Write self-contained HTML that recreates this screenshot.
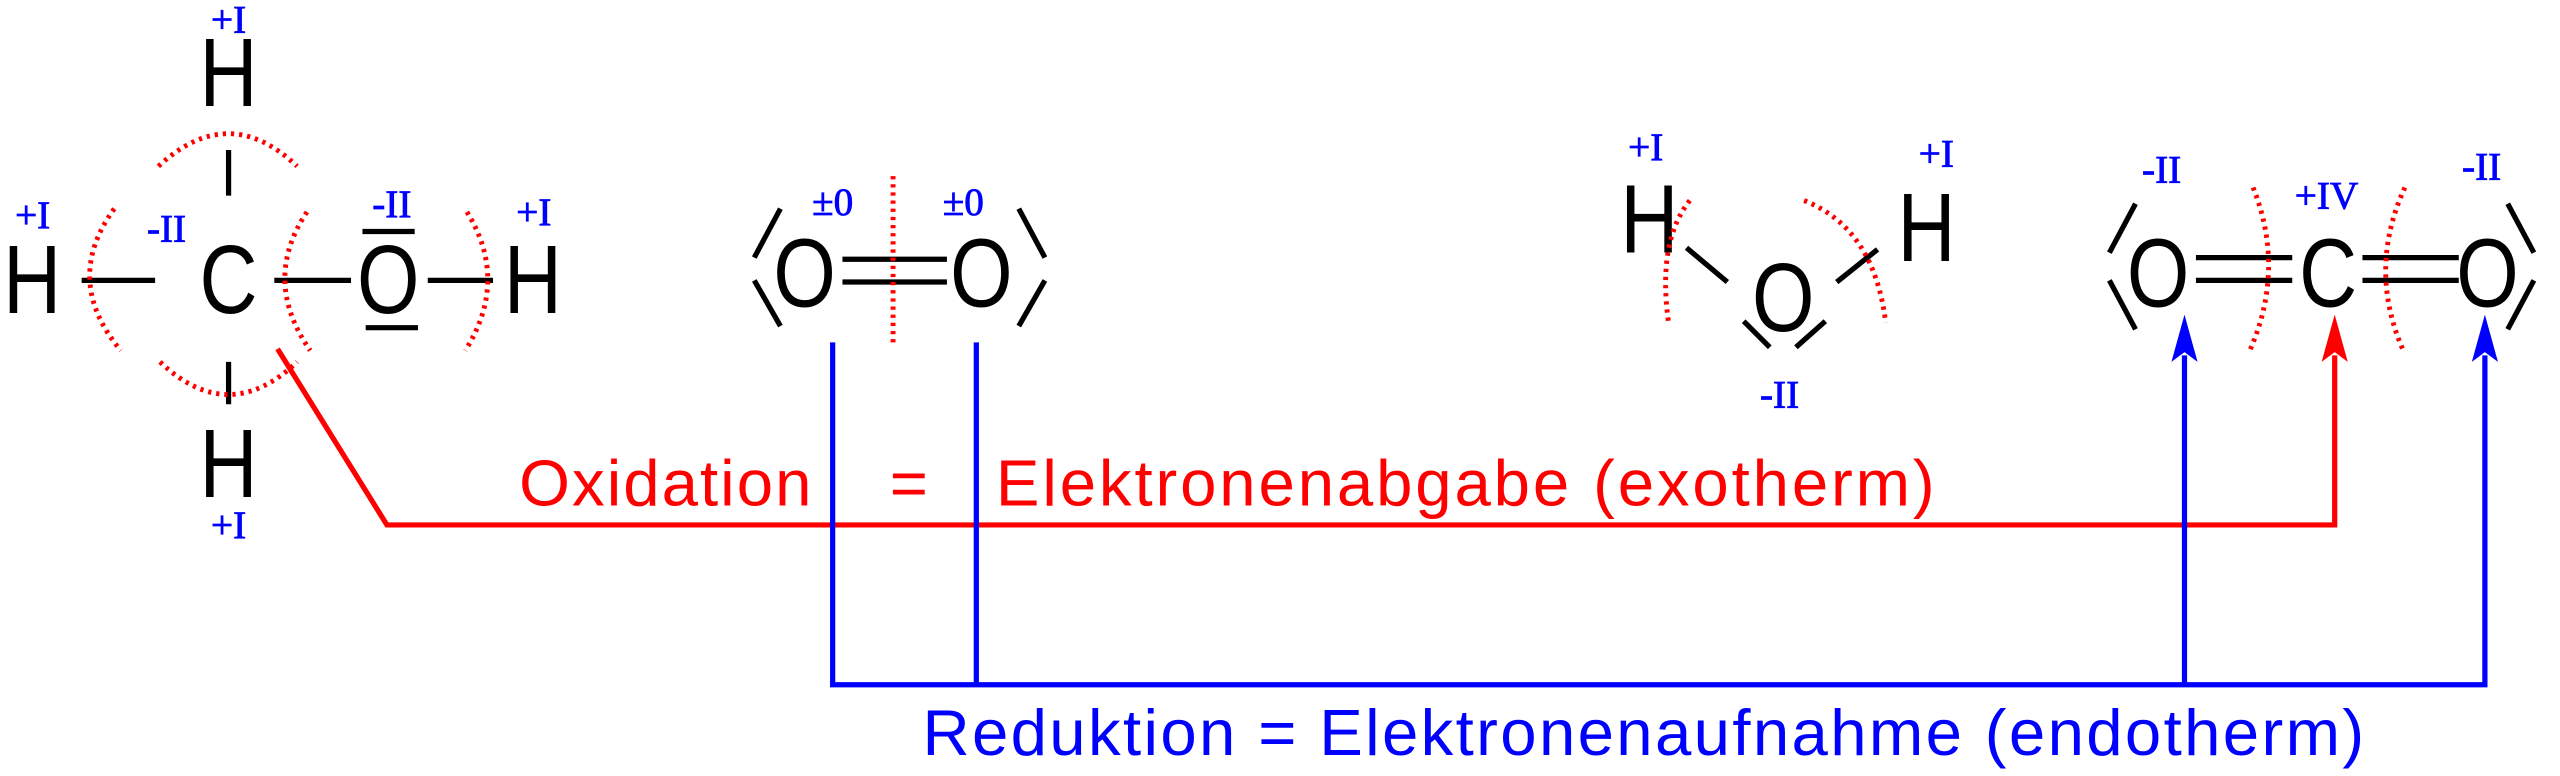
<!DOCTYPE html>
<html><head><meta charset="utf-8"><style>
html,body{margin:0;padding:0;background:#fff;}
svg{display:block;}
.a{font-family:"Liberation Sans",sans-serif;font-size:60px;fill:#000;text-anchor:middle;}
.n{font-family:"Liberation Serif",serif;font-size:24px;fill:#0000ff;text-anchor:middle;stroke:#0000ff;stroke-width:0.5;}
.t{font-family:"Liberation Sans",sans-serif;font-size:40px;}
</style></head><body>
<svg width="2560" height="776" viewBox="0 0 1568 476" preserveAspectRatio="none" xmlns="http://www.w3.org/2000/svg">
<g stroke="#000" stroke-width="3.2" fill="none">
 <line x1="140" y1="92" x2="140" y2="120"/>
 <line x1="140" y1="222" x2="140" y2="248"/>
 <line x1="50" y1="172" x2="95" y2="172"/>
 <line x1="168" y1="172" x2="215" y2="172"/>
 <line x1="262" y1="172" x2="302" y2="172"/>
 <line x1="222" y1="142" x2="254" y2="142"/>
 <line x1="224" y1="201" x2="256" y2="201"/>
 <line x1="516" y1="159" x2="580" y2="159"/>
 <line x1="516" y1="173" x2="580" y2="173"/>
 <line x1="478" y1="128" x2="462" y2="158"/>
 <line x1="462" y1="172" x2="478" y2="200"/>
 <line x1="624" y1="128" x2="640" y2="158"/>
 <line x1="640" y1="172" x2="624" y2="200"/>
 <line x1="1033" y1="152" x2="1058" y2="173"/>
 <line x1="1125" y1="173" x2="1150" y2="153"/>
 <line x1="1068" y1="197" x2="1084" y2="213"/>
 <line x1="1100" y1="213" x2="1118" y2="197"/>
 <line x1="1345" y1="158" x2="1404" y2="158"/>
 <line x1="1345" y1="172" x2="1404" y2="172"/>
 <line x1="1447" y1="158" x2="1506" y2="158"/>
 <line x1="1447" y1="172" x2="1506" y2="172"/>
 <line x1="1308" y1="125" x2="1292" y2="155"/>
 <line x1="1292" y1="172" x2="1308" y2="202"/>
 <line x1="1536" y1="125" x2="1552" y2="155"/>
 <line x1="1552" y1="172" x2="1536" y2="202"/>
</g>
<g class="a" transform="scale(0.82,1)">
 <text x="170.7" y="65">H</text>
 <text x="170.7" y="192">C</text>
 <text x="24" y="192">H</text>
 <text x="290" y="192">O</text>
 <text x="398" y="192">H</text>
 <text x="170.7" y="305">H</text>
 <text x="601" y="188">O</text>
 <text x="733" y="188">O</text>
 <text x="1232" y="155">H</text>
 <text x="1439" y="160">H</text>
 <text x="1332" y="203">O</text>
 <text x="1612" y="188">O</text>
 <text x="1739" y="188">C</text>
 <text x="1858" y="188">O</text>
</g>
<g class="n">
 <text x="140" y="20">+I</text>
 <text x="20" y="140">+I</text>
 <text x="102" y="148">-II</text>
 <text x="240" y="133">-II</text>
 <text x="327" y="138">+I</text>
 <text x="140" y="330">+I</text>
 <text x="510" y="132">±0</text>
 <text x="590" y="132">±0</text>
 <text x="1008" y="98">+I</text>
 <text x="1186" y="102">+I</text>
 <text x="1090" y="250">-II</text>
 <text x="1324" y="112">-II</text>
 <text x="1425" y="128">+IV</text>
 <text x="1520" y="110">-II</text>
</g>
<g stroke="#ff0000" stroke-width="3" stroke-dasharray="2 3" fill="none">
 <path d="M97 102 Q140 62 182 102"/>
 <path d="M98 222 Q140 262 182 222"/>
 <path d="M70 128 Q38 172 74 215"/>
 <path d="M188 130 Q160 172 190 215"/>
 <path d="M286 130 Q312 172 285 215"/>
 <line x1="547" y1="108" x2="547" y2="212"/>
 <path d="M1035 123 Q1015 148 1022 198"/>
 <path d="M1105 123 Q1148 140 1155 198"/>
 <path d="M1380 115 Q1400 165 1378 215"/>
 <path d="M1473 115 Q1450 165 1472 215"/>
</g>
<polyline points="170,214 237,322 1430,322 1430,218" fill="none" stroke="#ff0000" stroke-width="3.2"/>
<polygon points="1430,193 1422,222 1430,216 1438,222" fill="#ff0000"/>
<g fill="none" stroke="#0000ff" stroke-width="3.2">
 <polyline points="510,210 510,420 1522,420 1522,218"/>
 <line x1="598" y1="210" x2="598" y2="420"/>
 <line x1="1338" y1="420" x2="1338" y2="218"/>
</g>
<polygon points="1338,193 1330,222 1338,216 1346,222" fill="#0000ff"/>
<polygon points="1522,193 1514,222 1522,216 1530,222" fill="#0000ff"/>
<text class="t" x="318" y="310" fill="#ff0000" textLength="179">Oxidation</text>
<text class="t" x="545" y="310" fill="#ff0000">=</text>
<text class="t" x="610" y="310" fill="#ff0000" textLength="575">Elektronenabgabe (exotherm)</text>
<text class="t" x="565" y="463" fill="#0000ff" textLength="883">Reduktion = Elektronenaufnahme (endotherm)</text>
</svg>
</body></html>
